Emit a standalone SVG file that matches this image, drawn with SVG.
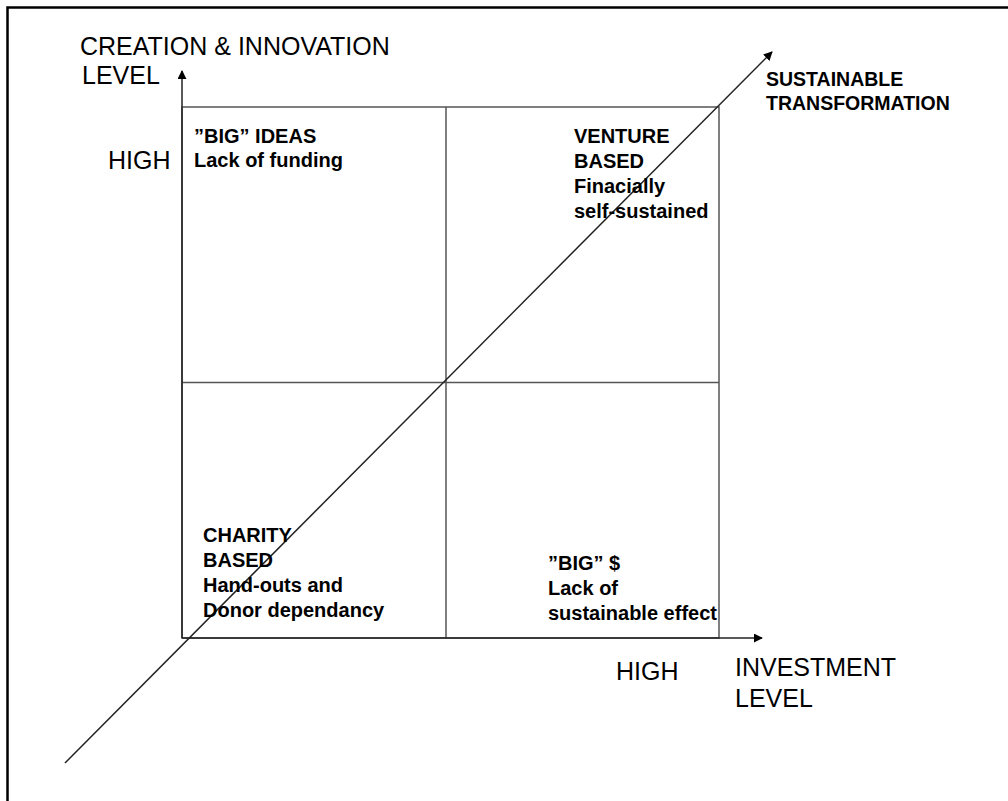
<svg xmlns="http://www.w3.org/2000/svg" width="1008" height="801" viewBox="0 0 1008 801">
<style>
.ax{font-family:"Liberation Sans",Arial,sans-serif;font-size:25px;fill:#000}
.lb{font-family:"Liberation Sans",Arial,sans-serif;font-size:20px;font-weight:bold;fill:#000}
.st{font-family:"Liberation Sans",Arial,sans-serif;font-size:19.5px;font-weight:bold;fill:#000}
.grid{stroke:#555;stroke-width:1.5;fill:none}
.axis{stroke:#222;stroke-width:1.5;fill:none}
</style>
<defs>
<marker id="ah" viewBox="0 0 10 10" refX="9" refY="5" markerWidth="9" markerHeight="9" markerUnits="userSpaceOnUse" orient="auto">
<path d="M0,0 L10,5 L0,10 Z" fill="#000"/>
</marker>
</defs>
<rect width="1008" height="801" fill="#fff"/>
<g id="frame">
<path d="M7.5,801 V7.5 H1008" stroke="#000" stroke-width="2.5" fill="none"/>
</g>
<g id="connectors">
<rect class="grid" x="182" y="107" width="537" height="531"/>
<line class="grid" x1="446" y1="107" x2="446" y2="638"/>
<line class="grid" x1="182" y1="382.5" x2="719" y2="382.5"/>
<line class="axis" x1="182" y1="638" x2="182" y2="71" marker-end="url(#ah)"/>
<line class="axis" x1="182" y1="638" x2="762" y2="638" marker-end="url(#ah)"/>
<line class="axis" x1="65" y1="763" x2="772" y2="52" marker-end="url(#ah)"/>
</g>
<g id="y-axis-label">
<text class="ax" x="80" y="55">CREATION &amp; INNOVATION</text>
<text class="ax" x="82" y="84">LEVEL</text>
</g>
<g id="y-high"><text class="ax" x="108" y="169">HIGH</text></g>
<g id="x-high"><text class="ax" x="616" y="680">HIGH</text></g>
<g id="x-axis-label">
<text class="ax" x="735" y="676">INVESTMENT</text>
<text class="ax" x="735" y="707">LEVEL</text>
</g>
<g id="sustainable">
<text class="st" x="766" y="86">SUSTAINABLE</text>
<text class="st" x="766" y="110">TRANSFORMATION</text>
</g>
<g id="big-ideas">
<text class="lb" x="194" y="143">”BIG” IDEAS</text>
<text class="lb" x="194" y="167">Lack of funding</text>
</g>
<g id="venture">
<text class="lb" x="574" y="143">VENTURE</text>
<text class="lb" x="574" y="168">BASED</text>
<text class="lb" x="574" y="193">Finacially</text>
<text class="lb" x="574" y="218">self-sustained</text>
</g>
<g id="charity">
<text class="lb" x="203" y="542">CHARITY</text>
<text class="lb" x="203" y="567">BASED</text>
<text class="lb" x="203" y="592">Hand-outs and</text>
<text class="lb" x="203" y="617">Donor dependancy</text>
</g>
<g id="big-money">
<text class="lb" x="548" y="570">”BIG” $</text>
<text class="lb" x="548" y="595">Lack of</text>
<text class="lb" x="548" y="620">sustainable effect</text>
</g>
</svg>
